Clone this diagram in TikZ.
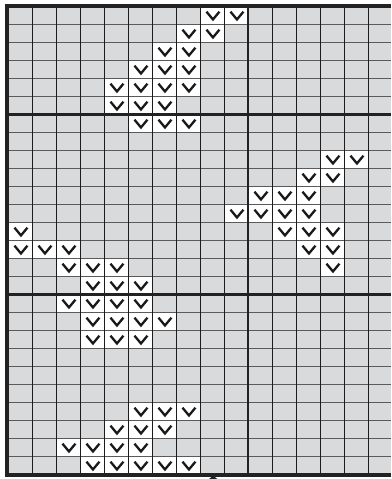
\documentclass[tikz,border=0pt]{standalone}
\usepackage{tikz}
\usepackage{xcolor}
\usetikzlibrary{arrows.meta}
\definecolor{chartgray}{HTML}{D9DADB}
\definecolor{rowline}{HTML}{5A5A5A}
\definecolor{colline}{HTML}{1C1C1C}
\definecolor{frameline}{HTML}{222222}

\begin{document}
\begin{tikzpicture}[
  x=24pt, y=-18pt,
  knit/.style={fill=white},
  vmark/.style={line width=2.3pt, draw=black!90, line join=miter, line cap=butt},
  rowrule/.style={draw=rowline, line width=1.2pt},
  colrule/.style={draw=colline, line width=0.9pt},
  major/.style={draw=frameline, line width=2.1pt},
  frame/.style={draw=frameline, line width=4pt},
]
\useasboundingbox (-0.3333,-0.3611) rectangle (15.9583,26.25);
\fill[chartgray] (0,0) rectangle (15.9583,26);

% knit stitches: row / columns
\foreach \r/\cols in {0/{8,9}, 1/{7,8}, 2/{6,7}, 3/{5,6,7}, 4/{4,5,6,7}, 5/{4,5,6}, 6/{5,6,7},
                      8/{13,14}, 9/{12,13}, 10/{10,11,12}, 11/{9,10,11,12}, 12/{0,11,12,13},
                      13/{0,1,2,12,13}, 14/{2,3,4,13}, 15/{3,4,5}, 16/{2,3,4,5}, 17/{3,4,5,6},
                      18/{3,4,5}, 22/{5,6,7}, 23/{4,5,6}, 24/{2,3,4,5}, 25/{3,4,5,6,7}}
  \foreach \c in \cols
    \fill[knit] (\c,\r) rectangle ++(1,1);

\foreach \r in {1,...,25}
  \draw[rowrule] (0,\r) -- (15.9583,\r);
\foreach \c in {1,...,15}
  \draw[colrule] (\c,0) -- (\c,26);

% every ten stitches / rows
\draw[major] (10,0) -- (10,26);
\draw[major] (0,6) -- (15.9583,6);
\draw[major] (0,16) -- (15.9583,16);

\draw[frame] (15.9583,0) -- (-0.05,0) -- (-0.05,26) -- (15.9583,26);

\foreach \r/\cols in {0/{8,9}, 1/{7,8}, 2/{6,7}, 3/{5,6,7}, 4/{4,5,6,7}, 5/{4,5,6}, 6/{5,6,7},
                      8/{13,14}, 9/{12,13}, 10/{10,11,12}, 11/{9,10,11,12}, 12/{0,11,12,13},
                      13/{0,1,2,12,13}, 14/{2,3,4,13}, 15/{3,4,5}, 16/{2,3,4,5}, 17/{3,4,5,6},
                      18/{3,4,5}, 22/{5,6,7}, 23/{4,5,6}, 24/{2,3,4,5}, 25/{3,4,5,6,7}}
  \foreach \c in \cols
    \draw[vmark] ({\c+0.27},{\r+0.29}) -- ({\c+0.54},{\r+0.72}) -- ({\c+0.81},{\r+0.29});

% centre marker
\fill[frameline] (8.55,26.06) -- (8.72,26.25) -- (8.38,26.25) -- cycle;
\end{tikzpicture}
\end{document}
